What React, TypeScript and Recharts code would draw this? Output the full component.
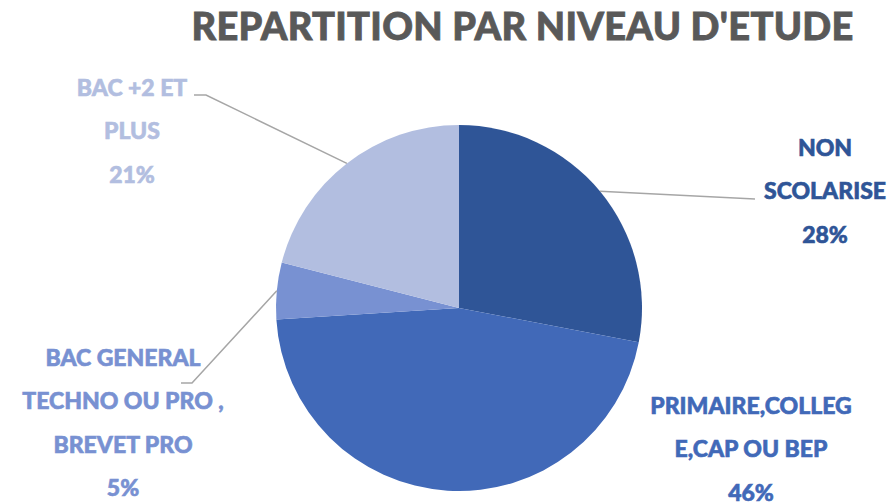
import { Cell, Pie, PieChart } from "recharts";

const categories = [
  ["NON", "SCOLARISE"],
  ["PRIMAIRE,COLLEG", "E,CAP OU BEP"],
  ["BAC GENERAL", "TECHNO OU PRO ,", "BREVET PRO"],
  ["BAC +2 ET", "PLUS"],
];
const shares = [28, 46, 5, 21];
const sliceColors = ["#2F5597", "#4169B8", "#7891D2", "#B2BEE0"];
const title = "REPARTITION PAR NIVEAU D'ETUDE";

const data = categories.map((lines, i) => ({ name: lines.join(""), lines, value: shares[i] }));
const total = shares.reduce((a, b) => a + b, 0);

// where each label block sits, and the elbow of its leader line (null = no line)
const labelLayout = [
  { x: 825, y: 156, leader: [[755, 199]] },
  { x: 751, y: 414, leader: null },
  { x: 123, y: 366, leader: [[192, 383], [181, 383]] },
  { x: 132, y: 96, leader: [[206, 95], [194, 95]] },
];

const RAD = Math.PI / 180;

function renderLabel(props: any) {
  const { cx, cy, midAngle, outerRadius, index, payload } = props;
  const layout = labelLayout[index];
  const lines: string[] = [...payload.lines, `${Math.round((payload.value / total) * 100)}%`];
  const sx = cx + outerRadius * Math.cos(-midAngle * RAD);
  const sy = cy + outerRadius * Math.sin(-midAngle * RAD);
  return (
    <g>
      {layout.leader && (
        <polyline
          points={[[sx, sy], ...layout.leader].map((p) => p.join(",")).join(" ")}
          fill="none"
          stroke="#A6A6A6"
          strokeWidth={1.5}
        />
      )}
      <text
        x={layout.x}
        y={layout.y}
        textAnchor="middle"
        fill={sliceColors[index]}
        stroke={sliceColors[index]}
        strokeWidth={0.6}
        fontFamily="Lato, sans-serif"
        fontWeight={900}
        fontSize={23}
      >
        {lines.map((line, j) => (
          <tspan key={j} x={layout.x} y={layout.y + j * 43.3}>
            {line}
          </tspan>
        ))}
      </text>
    </g>
  );
}

export default function App() {
  return (
    <div style={{ position: "absolute", left: 0, top: 0, width: 895, height: 502, background: "#fff" }}>
      <div
        style={{
          position: "absolute",
          left: 0,
          width: 895,
          top: 2,
          paddingLeft: 150,
          boxSizing: "border-box",
          textAlign: "center",
          fontFamily: "Lato, sans-serif",
          fontWeight: 900,
          fontSize: 38,
          color: "#595959",
          letterSpacing: 0.3,
          WebkitTextStroke: "0.8px #595959",
        }}
      >
        {title}
      </div>
      <PieChart width={895} height={502} margin={{ top: 0, right: 0, bottom: 0, left: 0 }}>
        <Pie
          data={data}
          dataKey="value"
          nameKey="name"
          cx={459}
          cy={308}
          outerRadius={183}
          startAngle={90}
          endAngle={-270}
          stroke="none"
          label={renderLabel}
          labelLine={false}
          isAnimationActive={false}
        >
          {data.map((d, i) => (
            <Cell key={d.name} fill={sliceColors[i]} />
          ))}
        </Pie>
      </PieChart>
    </div>
  );
}
